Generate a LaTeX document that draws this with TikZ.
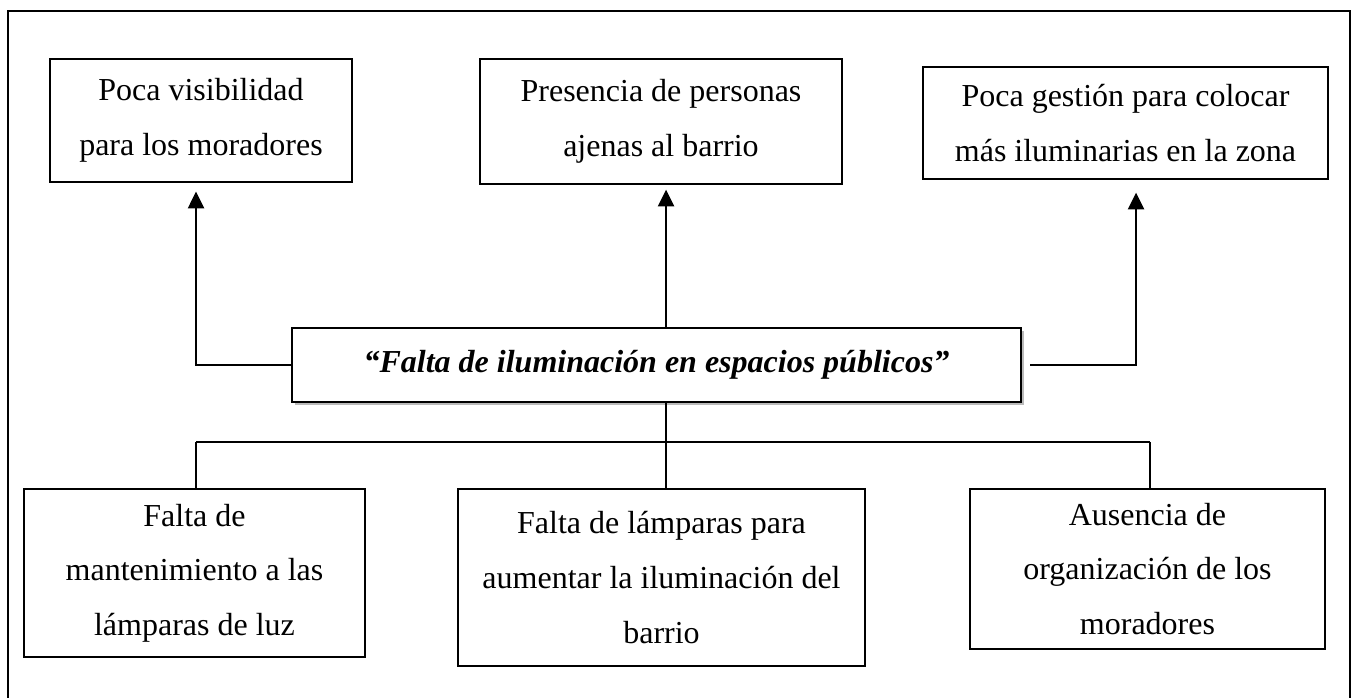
\documentclass[tikz,border=0pt]{standalone}
\usepackage{fontspec}
\setmainfont{Liberation Serif}
\usetikzlibrary{arrows.meta,shadows}
\begin{document}
\begin{tikzpicture}[x=0.75pt,y=-0.75pt,
  bx/.style 2 args={draw, line width=1pt, inner sep=0pt, align=center,
    minimum width=#1*0.75pt, minimum height=#2*0.75pt,
    font=\fontsize{24}{41}\selectfont},
  upconn/.style={line width=1.6pt, -{Triangle[width=12pt,length=12.5pt]}},
  downconn/.style={line width=1pt},
  outer/.style={line width=2.2pt}]
\useasboundingbox (0,0) rectangle (1354,698);
% outer frame (no bottom edge visible)
\draw[outer] (8,700) -- (8,11) -- (1350,11) -- (1350,700);
% effects
\node[bx={302}{123}] (e1) at (201,120.5) {Poca visibilidad\\para los moradores};
\node[bx={362}{125}] (e2) at (661,121.5) {Presencia de personas\\ajenas al barrio};
\node[bx={405}{112}] (e3) at (1125.5,123) {Poca gestión para colocar\\más iluminarias en la zona};
% central problem
\node[bx={729}{74}, fill=white, font=\fontsize{24}{28}\selectfont\bfseries\itshape,
  drop shadow={shadow xshift=2.5pt, shadow yshift=-2.5pt, opacity=0.45, fill=black!60}]
  (p) at (656.5,365) {“Falta de iluminación en espacios públicos”};
% causes
\node[bx={341}{168}] (c1) at (194.5,573) {Falta de\\mantenimiento a las\\lámparas de luz};
\node[bx={407}{177}] (c2) at (661.5,577.5) {Falta de lámparas para\\aumentar la iluminación del\\barrio};
\node[bx={355}{160}] (c3) at (1147.5,569) {Ausencia de\\organización de los\\moradores};
% coordinates
\coordinate (lb) at (196,365);
\coordinate (rs) at (1030,365);
\coordinate (rb) at (1136,365);
\coordinate (mt) at (666,328);
\coordinate (mb) at (666,402);
\coordinate (hl) at (196,442);
\coordinate (hm) at (666,442);
\coordinate (hr) at (1150,442);
% upward connectors
\draw[upconn, shorten >=6.75pt] (p.west) -- (lb) -- (lb |- e1.south);
\draw[upconn, shorten >=3.75pt] (mt) -- (mt |- e2.south);
\draw[upconn, shorten >=9.75pt] (rs) -- (rb) -- (rb |- e3.south);
% downward connectors
\draw[downconn] (mb) -- (hm);
\draw[downconn] (hl) -- (hr);
\draw[downconn] (hl) -- (hl |- c1.north);
\draw[downconn] (hm) -- (hm |- c2.north);
\draw[downconn] (hr) -- (hr |- c3.north);
\end{tikzpicture}
\end{document}
